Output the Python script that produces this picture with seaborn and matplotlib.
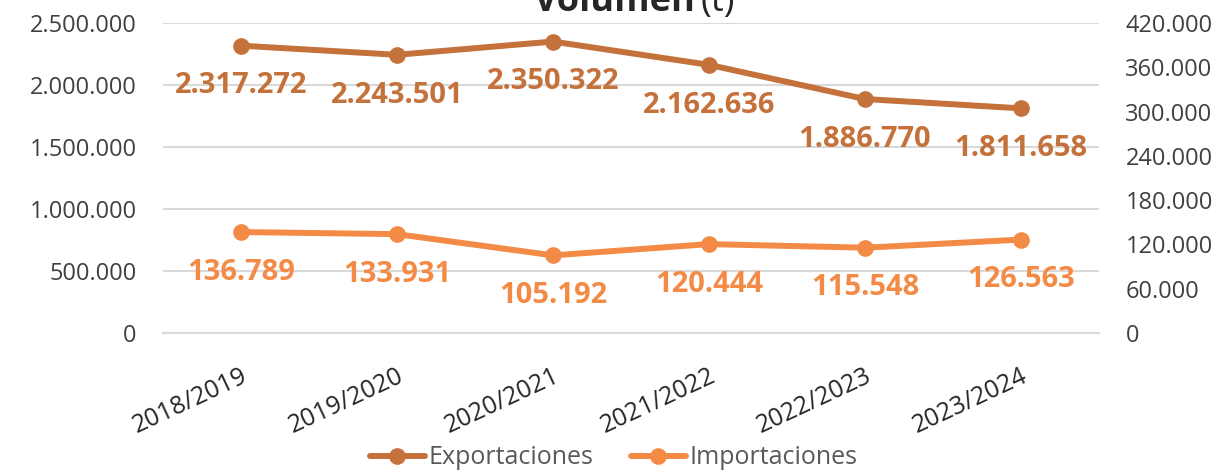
import numpy as np
import pandas as pd
import seaborn as sns
import matplotlib.pyplot as plt
from matplotlib.ticker import FuncFormatter, FixedLocator
from matplotlib.lines import Line2D

campanias = ["2018/2019", "2019/2020", "2020/2021", "2021/2022", "2022/2023", "2023/2024"]
exportaciones = [2317272, 2243501, 2350322, 2162636, 1886770, 1811658]
importaciones = [136789, 133931, 105192, 120444, 115548, 126563]

c_exp = "#C4713B"
c_imp = "#F38B47"

sns.set_style("white")
plt.rcParams['font.family'] = ['Open Sans', 'DejaVu Sans']


def miles(v, pos=None):
    return f"{int(round(v)):,}".replace(",", ".")


df = pd.DataFrame({"campania": campanias, "exp": exportaciones, "imp": importaciones})
df["x"] = np.arange(len(df))

fig = plt.figure(figsize=(12.27, 4.71), dpi=100)
ax = fig.add_axes([163 / 1227, 1 - 333 / 471, (1099 - 163) / 1227, 310 / 471])
ax2 = ax.twinx()

sns.lineplot(data=df, x="x", y="exp", ax=ax, color=c_exp, lw=4.3, marker="o",
             markersize=12, markeredgewidth=0, legend=False)
sns.lineplot(data=df, x="x", y="imp", ax=ax2, color=c_imp, lw=4.3, marker="o",
             markersize=12, markeredgewidth=0, legend=False)

ax.set_ylim(0, 2500000)
ax2.set_ylim(0, 420000)
ax.set_xlim(-0.5, len(df) - 0.5)
ax.yaxis.set_major_locator(FixedLocator(np.arange(0, 2500001, 500000)))
ax2.yaxis.set_major_locator(FixedLocator(np.arange(0, 420001, 60000)))
ax.yaxis.set_major_formatter(FuncFormatter(miles))
ax2.yaxis.set_major_formatter(FuncFormatter(miles))

ax.grid(axis="y", color="#D9D9D9", lw=1.5)
ax.set_axisbelow(True)
ax2.grid(False)
for a in (ax, ax2):
    for s in a.spines.values():
        s.set_visible(False)
    a.set_xlabel("")
    a.set_ylabel("")
ax.spines["bottom"].set_visible(True)
ax.spines["bottom"].set_color("#D9D9D9")
ax.spines["bottom"].set_linewidth(1.5)

ax.set_xticks(df["x"])
ax.set_xticklabels(campanias, rotation=25, ha="right", rotation_mode="anchor",
                   fontsize=18, color="#262626")
ax.set_xticks(np.arange(-0.5, len(df)), minor=True)
ax.tick_params(axis="x", which="major", length=0, pad=22)
ax.tick_params(axis="x", which="minor", length=7, width=1.5, color="#D9D9D9", direction="out")
ax.tick_params(axis="y", length=0, pad=19, labelsize=17, labelcolor="#404040")
ax2.tick_params(axis="y", length=0, pad=19, labelsize=17, labelcolor="#404040")

for xi, v in zip(df["x"], df["exp"]):
    ax.annotate(miles(v), (xi, v), xytext=(0, -29), textcoords="offset points",
                ha="center", va="center", fontsize=21, fontweight="bold", color=c_exp)
for xi, v in zip(df["x"], df["imp"]):
    ax2.annotate(miles(v), (xi, v), xytext=(0, -29), textcoords="offset points",
                 ha="center", va="center", fontsize=21, fontweight="bold", color=c_imp)

fig.text(0.566, 1 - 11 / 471, "Volumen", ha="right", va="baseline",
         fontsize=26, fontweight="bold", color="#262626")
fig.text(0.571, 1 - 11 / 471, "(t)", ha="left", va="baseline",
         fontsize=26, color="#262626")

handles = [Line2D([], [], color=c_exp, lw=4.3, marker="o", markersize=12, markeredgewidth=0),
           Line2D([], [], color=c_imp, lw=4.3, marker="o", markersize=12, markeredgewidth=0)]
leg = fig.legend(handles, ["Exportaciones", "Importaciones"], loc="center",
                 bbox_to_anchor=(0.5, 1 - 458 / 471), ncol=2, frameon=False,
                 fontsize=18, handlelength=2.2, handletextpad=0.15, columnspacing=1.5)
for t in leg.get_texts():
    t.set_color("#595959")

fig.savefig("out.png", dpi=100)
